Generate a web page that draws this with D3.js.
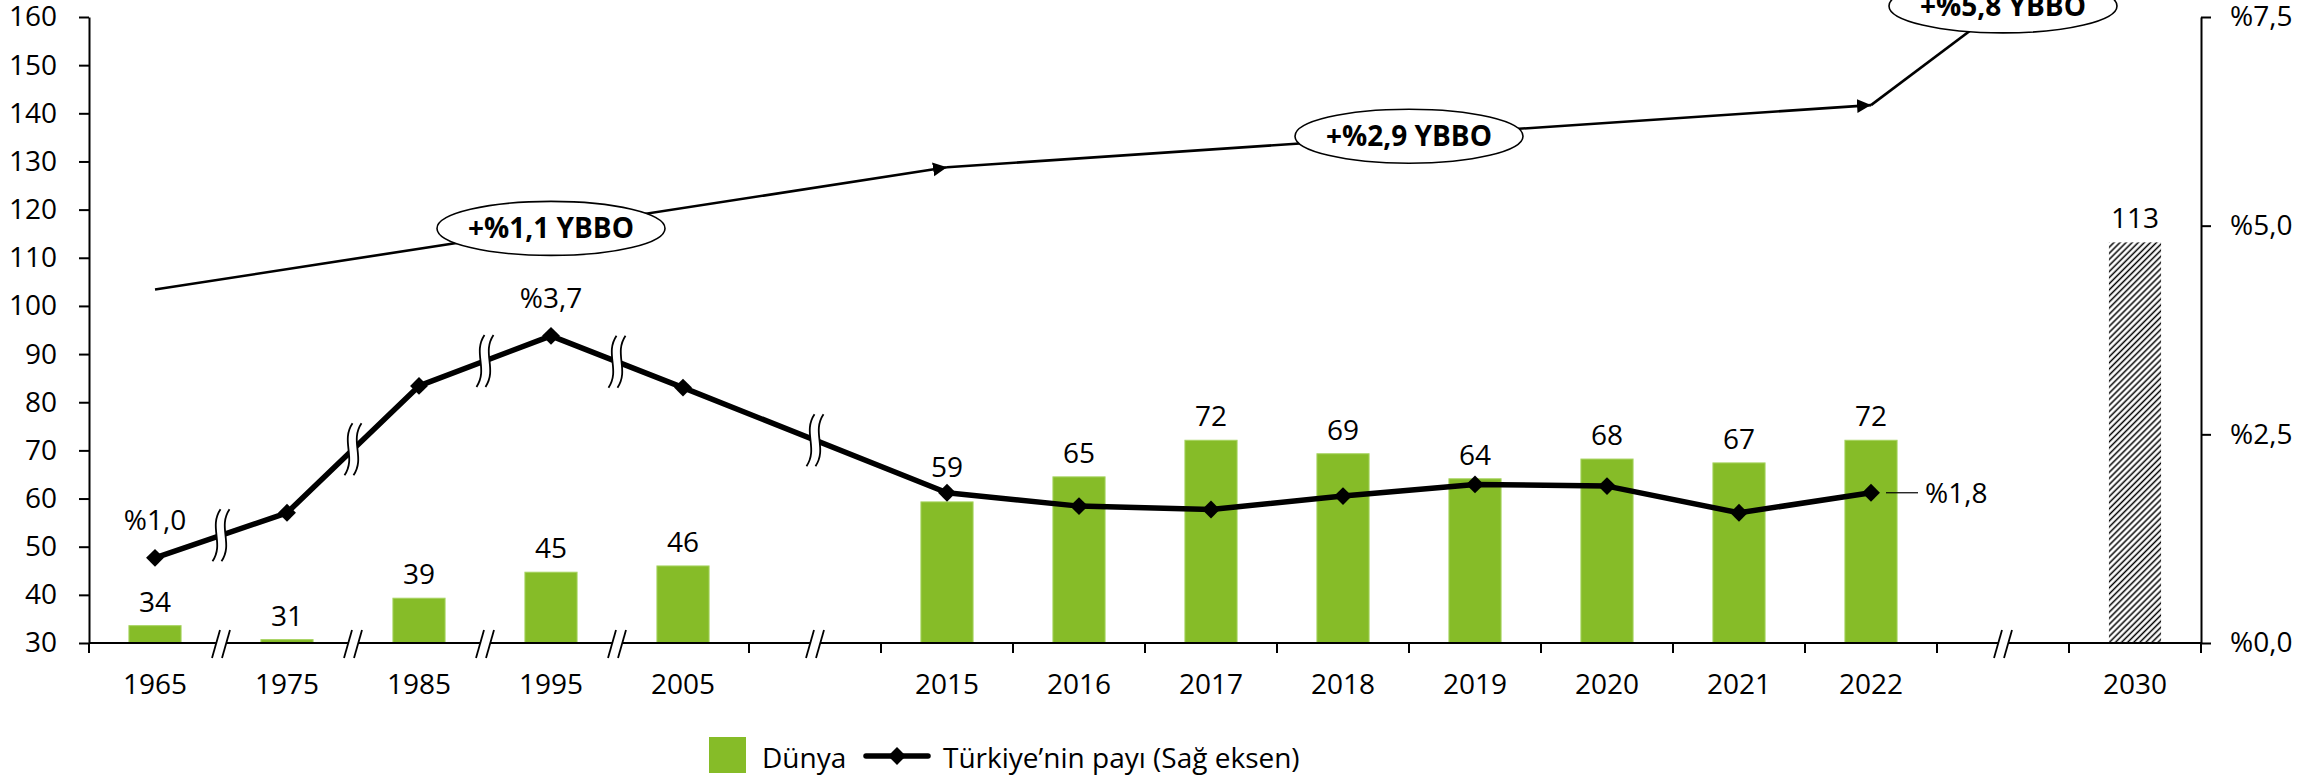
<!DOCTYPE html>
<html>
<head>
<meta charset="utf-8">
<script src="https://cdn.jsdelivr.net/npm/d3@7"></script>
<style>
  body { margin: 0; background: #fff; }
  svg text { font-family: "Open Sans", sans-serif; fill: #000; }
</style>
</head>
<body>
<div id="chart"></div>
<script>
// categories on the x axis ("ara" = empty slot with a break mark)
const categories = ["1965", "1975", "1985", "1995", "2005", "ara1", "2015", "2016", "2017",
  "2018", "2019", "2020", "2021", "2022", "ara2", "2030"];

// Dünya (left axis)
const barYears = ["1965", "1975", "1985", "1995", "2005", "2015", "2016", "2017", "2018",
  "2019", "2020", "2021", "2022"];
const dunya = [33.6, 30.7, 39.3, 44.7, 46.0, 59.3, 64.5, 72.1, 69.3, 64.1, 68.2, 67.4, 72.1];

// 2030 forecast bar (hatched)
const forecastYear = "2030";
const forecastValue = 113.2;

// Türkiye'nin payı (right axis, %)
const shareYears = barYears;
const turkiyeShare = [1.02, 1.56, 3.08, 3.68, 3.06, 1.80, 1.64, 1.60, 1.76, 1.90, 1.88, 1.56, 1.80];
const shareLabelYears = ["1965", "1995", "2022"];

// tick labels
const leftTicks = [30, 40, 50, 60, 70, 80, 90, 100, 110, 120, 130, 140, 150, 160];
const rightTicks = [0, 2.5, 5, 7.5];

// growth trend annotation (left axis values)
const trendYears = ["1965", "2015", "2022", "ara2"];
const trendValues = [103.4, 128.8, 141.7, 162.3];
const growthLabels = ["+%1,1 YBBO", "+%2,9 YBBO", "+%5,8 YBBO"];

const width = 2323, height = 777;
const plotLeft = 89, plotRight = 2201, plotTop = 17, plotBottom = 643;
const green = "#86bc28";
const fmtPct = v => "%" + v.toFixed(1).replace(".", ",");

const svg = d3.select("#chart").append("svg")
  .attr("width", width)
  .attr("height", height);

const defs = svg.append("defs");
const hatch = defs.append("pattern")
  .attr("id", "hatch")
  .attr("patternUnits", "userSpaceOnUse")
  .attr("width", 4.3).attr("height", 4.3)
  .attr("patternTransform", "rotate(45)");
hatch.append("rect").attr("width", 4.3).attr("height", 4.3).attr("fill", "#fff");
hatch.append("line")
  .attr("x1", 2.15).attr("y1", 0).attr("x2", 2.15).attr("y2", 4.3)
  .attr("stroke", "#000").attr("stroke-width", 1.5);

defs.append("marker")
  .attr("id", "arrow")
  .attr("markerUnits", "userSpaceOnUse")
  .attr("markerWidth", 16).attr("markerHeight", 16)
  .attr("refX", 14).attr("refY", 7)
  .attr("orient", "auto")
  .append("path")
  .attr("d", "M0,0L14,7L0,14Z")
  .attr("fill", "#000");

const x = d3.scaleBand().domain(categories).range([plotLeft, plotRight]).padding(0);
const bw = x.bandwidth();
const cx = d => x(d) + bw / 2;
const yL = d3.scaleLinear().domain([30, 160]).range([plotBottom, plotTop]);
const yR = d3.scaleLinear().domain([0, 7.5]).range([plotBottom, plotTop]);
const barW = bw * 0.395;

// bars
const bars = barYears.map((y, i) => ({ year: y, value: dunya[i] }));
svg.append("g").selectAll("rect")
  .data(bars)
  .enter().append("rect")
  .attr("x", d => cx(d.year) - barW / 2)
  .attr("y", d => yL(d.value))
  .attr("width", barW)
  .attr("height", d => yL(30) - yL(d.value))
  .attr("fill", green)
  .attr("stroke", "#a6d35f")
  .attr("stroke-width", 1);

// forecast bar
svg.append("rect")
  .attr("x", cx(forecastYear) - barW / 2)
  .attr("y", yL(forecastValue))
  .attr("width", barW)
  .attr("height", yL(30) - yL(forecastValue))
  .attr("fill", "url(#hatch)");

// trend line with arrows
const trend = trendYears.map((y, i) => [cx(y), yL(trendValues[i])]);
for (let i = 0; i < trend.length - 1; i++) {
  svg.append("line")
    .attr("x1", trend[i][0]).attr("y1", trend[i][1])
    .attr("x2", trend[i + 1][0]).attr("y2", trend[i + 1][1])
    .attr("stroke", "#000").attr("stroke-width", 2.6)
    .attr("marker-end", i < trend.length - 2 ? "url(#arrow)" : null);
}
// growth labels: middle of first two segments, end of the last
growthLabels.forEach((t, i) => {
  const last = i === growthLabels.length - 1;
  const ex = last ? trend[i + 1][0] : (trend[i][0] + trend[i + 1][0]) / 2;
  const ey = last ? trend[i + 1][1] : (trend[i][1] + trend[i + 1][1]) / 2;
  svg.append("ellipse")
    .attr("cx", ex).attr("cy", ey)
    .attr("rx", 114).attr("ry", 27)
    .attr("fill", "#fff").attr("stroke", "#000").attr("stroke-width", 1.6);
  svg.append("text")
    .attr("x", ex).attr("y", ey + 10)
    .attr("text-anchor", "middle")
    .attr("font-size", 28).attr("font-weight", "bold")
    .text(t);
});

// share line
const share = shareYears.map((y, i) => ({ year: y, value: turkiyeShare[i], px: cx(y), py: yR(turkiyeShare[i]) }));
svg.append("path")
  .datum(share)
  .attr("fill", "none")
  .attr("stroke", "#000")
  .attr("stroke-width", 5.5)
  .attr("stroke-linejoin", "round")
  .attr("d", d3.line().x(d => d.px).y(d => d.py));

// break positions: boundaries between the early years and the middle of the empty slots
const breakXs = [1, 2, 3, 4].map(i => x(categories[i]))
  .concat(categories.filter(c => c.startsWith("ara")).map(cx));

// line breaks (double wavy marks)
const wave = (bx, by, dx) => [[bx + dx + 4, by - 26], [bx + dx - 8, by - 8], [bx + dx + 8, by + 8], [bx + dx - 4, by + 26]];
breakXs.forEach(bx => {
  const k = share.findIndex((d, i) => i < share.length - 1 && d.px < bx && share[i + 1].px > bx);
  if (k < 0) return;
  const a = share[k], b = share[k + 1];
  const by = a.py + (b.py - a.py) * (bx - a.px) / (b.px - a.px);
  const l = wave(bx, by, -4.5), r = wave(bx, by, 4.5);
  svg.append("path")
    .attr("d", `M${l[0]}C${l[1]} ${l[2]} ${l[3]}L${r[3]}C${r[2]} ${r[1]} ${r[0]}Z`)
    .attr("fill", "#fff");
  [l, r].forEach(p => svg.append("path")
    .attr("d", `M${p[0]}C${p[1]} ${p[2]} ${p[3]}`)
    .attr("fill", "none").attr("stroke", "#000").attr("stroke-width", 1.8));
});

// markers
svg.append("g").selectAll("path")
  .data(share)
  .enter().append("path")
  .attr("transform", d => `translate(${d.px},${d.py}) rotate(45)`)
  .attr("d", d3.symbol(d3.symbolSquare, 160))
  .attr("fill", "#000");

// bar value labels
svg.append("g").selectAll("text")
  .data(bars.concat([{ year: forecastYear, value: forecastValue }]))
  .enter().append("text")
  .attr("x", d => cx(d.year))
  .attr("y", d => {
    const above = yL(d.value) - 14;
    const s = share.find(p => p.year === d.year);
    if (s && s.py > yL(d.value) - 40) return Math.min(above, s.py - 16);
    return above;
  })
  .attr("text-anchor", "middle")
  .attr("font-size", 28)
  .text(d => Math.round(d.value));

// share labels
shareLabelYears.forEach((y, i) => {
  const s = share.find(p => p.year === y);
  if (i === shareLabelYears.length - 1) {
    svg.append("line")
      .attr("x1", s.px + 15).attr("x2", s.px + 47)
      .attr("y1", s.py).attr("y2", s.py)
      .attr("stroke", "#000").attr("stroke-width", 1.2);
    svg.append("text")
      .attr("x", s.px + 54).attr("y", s.py + 10)
      .attr("font-size", 28)
      .text(fmtPct(s.value));
  } else {
    svg.append("text")
      .attr("x", s.px).attr("y", s.py - 28)
      .attr("text-anchor", "middle")
      .attr("font-size", 28)
      .text(fmtPct(s.value));
  }
});

// left axis
const gl = svg.append("g")
  .attr("transform", `translate(${plotLeft},0)`)
  .call(d3.axisLeft(yL).tickValues(leftTicks).tickSize(10).tickSizeOuter(0).tickPadding(22));
// right axis
const gr = svg.append("g")
  .attr("transform", `translate(${plotRight},0)`)
  .call(d3.axisRight(yR).tickValues(rightTicks).tickFormat(fmtPct).tickSize(10).tickSizeOuter(0).tickPadding(19));
[gl, gr].forEach(g => {
  g.attr("font-family", null).attr("font-size", 28);
  g.selectAll("path, line").attr("stroke", "#000").attr("stroke-width", 2);
});

// x axis
const gx = svg.append("g")
  .attr("transform", `translate(0,${plotBottom})`)
  .call(d3.axisBottom(x).tickSize(0).tickPadding(31).tickFormat(d => d.startsWith("ara") ? "" : d));
gx.attr("font-family", null).attr("font-size", 28);
gx.select(".domain").remove();
svg.append("line")
  .attr("x1", plotLeft).attr("x2", plotRight)
  .attr("y1", plotBottom).attr("y2", plotBottom)
  .attr("stroke", "#000").attr("stroke-width", 2);

// ticks at slot boundaries, except where a break mark sits
const boundaries = categories.map(c => x(c)).concat([plotRight]);
svg.append("g").selectAll("line")
  .data(boundaries.filter(b => !breakXs.some(k => Math.abs(k - b) < 1)))
  .enter().append("line")
  .attr("x1", d => d).attr("x2", d => d)
  .attr("y1", plotBottom).attr("y2", plotBottom + 10)
  .attr("stroke", "#000").attr("stroke-width", 2);

// axis breaks "//"
breakXs.forEach(bx => {
  svg.append("path")
    .attr("d", `M${bx - 7},${plotBottom + 8}L${bx + 3},${plotBottom + 8}L${bx + 7},${plotBottom - 8}L${bx - 3},${plotBottom - 8}Z`)
    .attr("fill", "#fff");
  [-5, 5].forEach(dx => svg.append("line")
    .attr("x1", bx + dx - 4).attr("y1", plotBottom + 15)
    .attr("x2", bx + dx + 4).attr("y2", plotBottom - 13)
    .attr("stroke", "#000").attr("stroke-width", 1.8));
});

// legend
const lg = svg.append("g");
lg.append("rect")
  .attr("x", 709).attr("y", 737).attr("width", 37).attr("height", 36)
  .attr("fill", green);
lg.append("text").attr("x", 762).attr("y", 768).attr("font-size", 28).text("Dünya");
lg.append("line")
  .attr("x1", 866).attr("x2", 928).attr("y1", 756).attr("y2", 756)
  .attr("stroke", "#000").attr("stroke-width", 5.5).attr("stroke-linecap", "round");
lg.append("path")
  .attr("transform", "translate(897,756) rotate(45)")
  .attr("d", d3.symbol(d3.symbolSquare, 160))
  .attr("fill", "#000");
lg.append("text").attr("x", 943).attr("y", 768).attr("font-size", 28).text("Türkiye’nin payı (Sağ eksen)");
</script>
</body>
</html>
